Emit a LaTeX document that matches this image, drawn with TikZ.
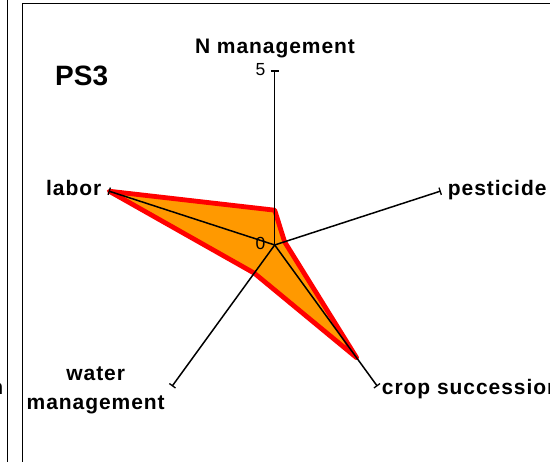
\documentclass[tikz,border=0pt]{standalone}
\usepackage{fontspec}
\setmainfont{Liberation Sans}
\newfontfamily\axisfont[LetterSpace=4.5]{Liberation Sans}
\usetikzlibrary{calc}
\definecolor{radarfill}{HTML}{FF9900}
\definecolor{radaredge}{HTML}{FF0000}

\begin{document}
\begin{tikzpicture}[x=1pt,y=1pt,
  frame/.style={line width=1pt,draw=black},
  axisline/.style={line width=1.5pt,draw=black},
  tickmark/.style={line width=1.3pt,draw=black},
  series/.style={fill=radarfill,draw=radaredge,line width=4.8pt,line join=round},
  axislabel/.style={inner sep=0pt,font=\axisfont\bfseries\fontsize{21}{24}\selectfont},
  scalelabel/.style={inner sep=0pt,font=\fontsize{17.5}{20}\selectfont},
  paneltitle/.style={inner sep=0pt,font=\bfseries\fontsize{28}{32}\selectfont}]
\useasboundingbox (0,0) rectangle (550,462);

% panel frames
\draw[frame] (7.5,0) -- (7.5,462);
\draw[frame] (22.7,0) -- (22.7,458.7) -- (550,458.7);

% end of the neighbouring panel's label
\begin{scope}
  \clip (0,0) rectangle (7,462);
  \node[axislabel,anchor=base east] (prevlabel) at (3.5,67) {crop succession};
\end{scope}

% radar centre and axis ends (scale 0..5 over 174pt)
\coordinate (O) at (274.7,217);
\coordinate (eN) at ($(O)+(90:174)$);
\coordinate (eP) at ($(O)+(18:174)$);
\coordinate (eC) at ($(O)+(-54:174)$);
\coordinate (eW) at ($(O)+(-126:174)$);
\coordinate (eL) at ($(O)+(162:174)$);

% data values: N 1, pesticide 0.3, crop succession 4, water 1, labor 5
\coordinate (dN) at ($(O)+(90:34.8)$);
\coordinate (dP) at ($(O)+(18:10.4)$);
\coordinate (dC) at ($(O)+(-54:139.2)$);
\coordinate (dW) at ($(O)+(-126:34.8)$);
\coordinate (dL) at ($(O)+(162:174)$);

\path[series] (dN) -- (dP) -- (dC) -- (dW) -- (dL) -- cycle;

% axes with end ticks
\foreach \e/\a in {eN/90,eP/18,eC/-54,eW/-126,eL/162}{
  \draw[axisline] (O) -- (\e);
  \draw[tickmark] ($(\e)+(\a+90:3.8)$) -- ($(\e)+(\a-90:3.8)$);
}

% scale labels
\node[scalelabel,anchor=base east] (smax) at (265.5,386) {5};
\node[scalelabel,anchor=base east] (szero) at (265.5,212.7) {0};

% axis labels
\node[axislabel,anchor=base] (lN) at (275,408.7) {N management};
\node[axislabel,anchor=base west] (lP) at (447.7,266) {pesticide};
\node[axislabel,anchor=base west] (lC) at (381.7,67) {crop succession};
\node[axislabel,anchor=base] (lW1) at (95.7,81.3) {water};
\node[axislabel,anchor=base] (lW2) at (95.7,52.7) {management};
\node[axislabel,anchor=base west] (lL) at (46,266) {labor};

% panel title
\node[paneltitle,anchor=base west] (title) at (55,376) {PS3};
\end{tikzpicture}
\end{document}
